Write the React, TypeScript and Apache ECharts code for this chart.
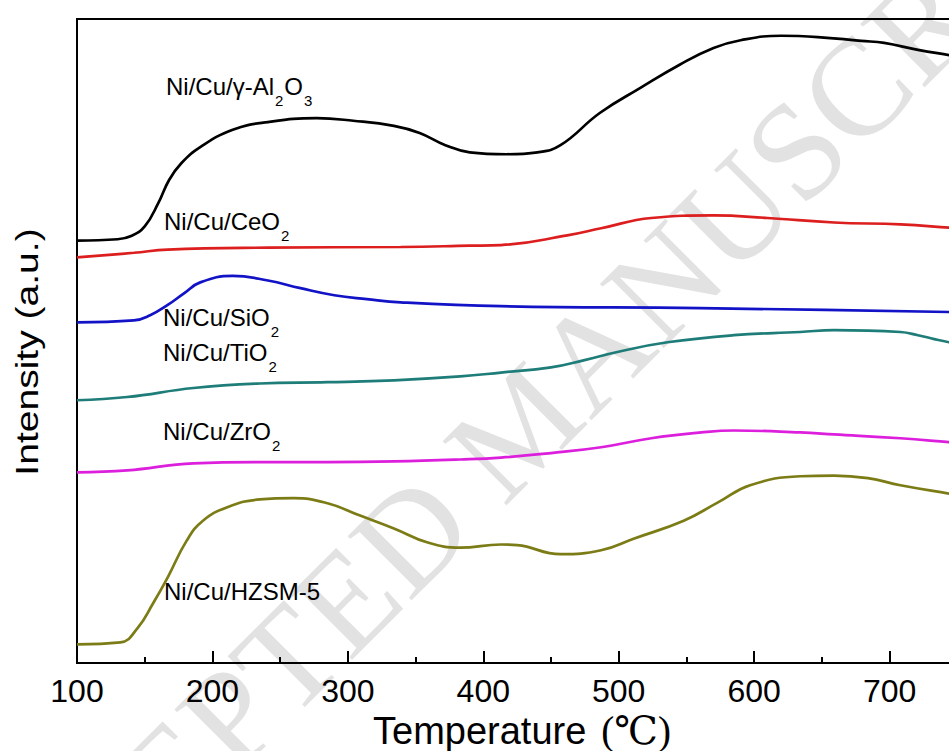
import React, { useEffect, useRef } from "react";
import * as echarts from "echarts";

// ---- Data (temperature in ℃, intensity in a.u.) ----
const seriesNames = [
  "Ni/Cu/γ-Al2O3",
  "Ni/Cu/CeO2",
  "Ni/Cu/SiO2",
  "Ni/Cu/TiO2",
  "Ni/Cu/ZrO2",
  "Ni/Cu/HZSM-5",
];
const seriesColors = ["#000000", "#dc1e1e", "#1212c6", "#1e7d78", "#dc1fdc", "#7c7c16"];

const alTemp = [100, 130, 140, 150, 160, 168, 177, 191, 215, 241, 277, 304, 334, 353, 372, 390, 417, 440, 457, 486, 516, 545, 570, 590, 620, 647, 679, 696, 721, 744, 750];
const alInt = [65.6, 65.8, 66.3, 67.8, 71.4, 75.0, 77.6, 80.1, 82.8, 84.0, 84.6, 84.2, 83.4, 82.3, 80.4, 79.3, 79.0, 79.3, 80.4, 85.4, 89.3, 92.9, 95.5, 96.7, 97.4, 97.2, 96.6, 96.3, 95.2, 94.4, 94.2];

const ceTemp = [100, 142, 167, 241, 339, 390, 413, 462, 487, 524, 570, 610, 659, 708, 744, 750];
const ceInt = [63.0, 63.7, 64.2, 64.5, 64.6, 64.8, 64.9, 66.4, 67.5, 69.1, 69.5, 69.1, 68.4, 68.1, 67.6, 67.5];

const siTemp = [100, 142, 154, 167, 179, 191, 215, 241, 265, 290, 314, 339, 413, 560, 744, 750];
const siInt = [52.9, 53.2, 54.0, 55.6, 57.4, 59.1, 60.1, 59.4, 58.2, 57.1, 56.5, 56.0, 55.4, 55.1, 54.5, 54.4];

const tiTemp = [100, 137, 186, 235, 285, 334, 383, 413, 450, 474, 499, 536, 585, 634, 659, 708, 721, 733, 744, 750];
const tiInt = [40.8, 41.3, 42.7, 43.4, 43.6, 43.9, 44.5, 45.1, 45.9, 47.0, 48.3, 49.8, 50.9, 51.4, 51.7, 51.4, 50.9, 50.3, 49.8, 49.6];

const zrTemp = [100, 137, 186, 235, 285, 334, 383, 413, 450, 487, 524, 561, 585, 634, 659, 708, 744, 750];
const zrInt = [29.6, 29.9, 31.0, 31.2, 31.2, 31.3, 31.6, 31.9, 32.6, 33.5, 34.9, 35.8, 36.1, 35.8, 35.5, 34.9, 34.3, 34.2];

const hzTemp = [100, 132, 145, 156, 167, 181, 193, 211, 235, 260, 285, 309, 334, 359, 383, 413, 425, 457, 487, 511, 548, 573, 597, 634, 659, 684, 708, 744, 750];
const hzInt = [2.9, 3.2, 5.5, 9.2, 13.3, 19.0, 22.1, 24.2, 25.4, 25.6, 24.8, 22.9, 20.9, 18.7, 17.9, 18.4, 18.3, 16.9, 17.5, 19.3, 22.1, 24.9, 27.6, 29.0, 29.1, 28.7, 27.6, 26.3, 26.1];

const temps = [alTemp, ceTemp, siTemp, tiTemp, zrTemp, hzTemp];
const ints = [alInt, ceInt, siInt, tiInt, zrInt, hzInt];

// label text pieces: alternating normal / subscript
const labelPieces = [
  ["Ni/Cu/γ-Al", "2", "O", "3"],
  ["Ni/Cu/CeO", "2"],
  ["Ni/Cu/SiO", "2"],
  ["Ni/Cu/TiO", "2"],
  ["Ni/Cu/ZrO", "2"],
  ["Ni/Cu/HZSM-5"],
];
const xTitle = "Temperature";
const xUnit = "(℃)";
const yTitle = "Intensity (a.u.)";
const watermarkText = "ACCEPTED MANUSCRIPT";

// ---- layout ----
const labelPos = [
  [166, 95],
  [164, 230],
  [163, 326],
  [163, 361],
  [163, 440],
  [164, 600],
];
const SANS = "'Liberation Sans', Arial, Helvetica, sans-serif";
const SERIF = "'Liberation Serif', 'Times New Roman', 'DejaVu Serif', 'Noto Sans CJK SC', serif";

let measureCtx: CanvasRenderingContext2D | null = null;
function textWidth(t: string, font: string) {
  if (!measureCtx) measureCtx = document.createElement("canvas").getContext("2d");
  measureCtx!.font = font;
  return measureCtx!.measureText(t).width;
}

function buildLabel(pieces: string[], x: number, baseline: number) {
  const children: any[] = [];
  let cx = x;
  pieces.forEach((s, i) => {
    const sub = i % 2 === 1;
    const fs = sub ? 15 : 24;
    const font = `${fs}px ${SANS}`;
    const by = sub ? baseline + 10.5 : baseline;
    children.push({
      type: "text",
      x: cx,
      y: by - 0.3465 * fs,
      z: 100,
      style: {
        text: s,
        font,
        fill: "#000",
        align: "left",
        verticalAlign: "middle",
        textAlign: "left",
        textVerticalAlign: "middle",
      },
    });
    cx += textWidth(s, font) + 1;
  });
  return children;
}

export default function App() {
  const ref = useRef<HTMLDivElement>(null);
  useEffect(() => {
    if (!ref.current) return;
    const chart = echarts.init(ref.current, null, { renderer: "svg" });

    const graphic: any[] = [];
    graphic.push({
      type: "text",
      x: 521,
      y: 425,
      rotation: Math.PI / 4,
      z: -10,
      silent: true,
      style: {
        text: watermarkText,
        font: `138px ${SERIF}`,
        fill: "#e2e2e2",
        align: "center",
        verticalAlign: "middle",
        textAlign: "center",
        textVerticalAlign: "middle",
      },
    });
    labelPieces.forEach((p, i) => {
      buildLabel(p, labelPos[i][0], labelPos[i][1]).forEach((c) => graphic.push(c));
    });
    // axis titles
    const xFont = `38px ${SANS}`;
    graphic.push({
      type: "text",
      x: 373,
      y: 744 - 0.3465 * 38,
      z: 100,
      style: { text: xTitle, font: xFont, fill: "#000", align: "left", verticalAlign: "middle", textAlign: "left", textVerticalAlign: "middle" },
    });
    graphic.push({
      type: "text",
      x: 373 + textWidth(xTitle, xFont) + 15,
      y: 744 - 0.3465 * 39,
      z: 100,
      style: { text: xUnit, font: `39px ${SERIF}`, fill: "#000", align: "left", verticalAlign: "middle", textAlign: "left", textVerticalAlign: "middle" },
    });
    graphic.push({
      type: "text",
      x: 27,
      y: 352,
      rotation: Math.PI / 2,
      scaleX: 1.22,
      z: 100,
      style: { text: yTitle, font: `32px ${SANS}`, fill: "#000", align: "center", verticalAlign: "middle", textAlign: "center", textVerticalAlign: "middle" },
    });

    chart.setOption({
      animation: false,
      backgroundColor: "#ffffff",
      grid: {
        left: 77,
        right: -76,
        top: 19,
        bottom: 88,
        containLabel: false,
        outerBoundsMode: "none",
        show: true,
        borderColor: "#000",
        borderWidth: 2,
        backgroundColor: "transparent",
      },
      xAxis: {
        type: "value",
        min: 100,
        max: 800,
        interval: 100,
        axisLine: { show: true, lineStyle: { color: "#000", width: 2 } },
        axisTick: { show: true, inside: true, length: 12, lineStyle: { color: "#000", width: 2 } },
        minorTick: { show: true, splitNumber: 2, length: 6, lineStyle: { color: "#000", width: 2 } },
        splitLine: { show: false },
        axisLabel: { color: "#000", fontSize: 32, fontFamily: SANS, margin: 12, hideOverlap: false, showMaxLabel: false },
      },
      yAxis: {
        type: "value",
        min: 0,
        max: 100,
        axisLine: { show: true, lineStyle: { color: "#000", width: 2 } },
        axisTick: { show: false },
        axisLabel: { show: false },
        splitLine: { show: false },
      },
      graphic,
      series: seriesNames.map((name, i) => ({
        type: "line",
        name,
        data: temps[i].map((t, j) => [t, ints[i][j]]),
        showSymbol: false,
        smooth: 0.45,
        z: 5,
        lineStyle: { color: seriesColors[i], width: 2.7 },
        itemStyle: { color: seriesColors[i] },
      })),
    });
    return () => chart.dispose();
  }, []);
  return (
    <div
      ref={ref}
      style={{ position: "absolute", left: 0, top: 0, width: 949, height: 751, background: "#fff" }}
    />
  );
}
